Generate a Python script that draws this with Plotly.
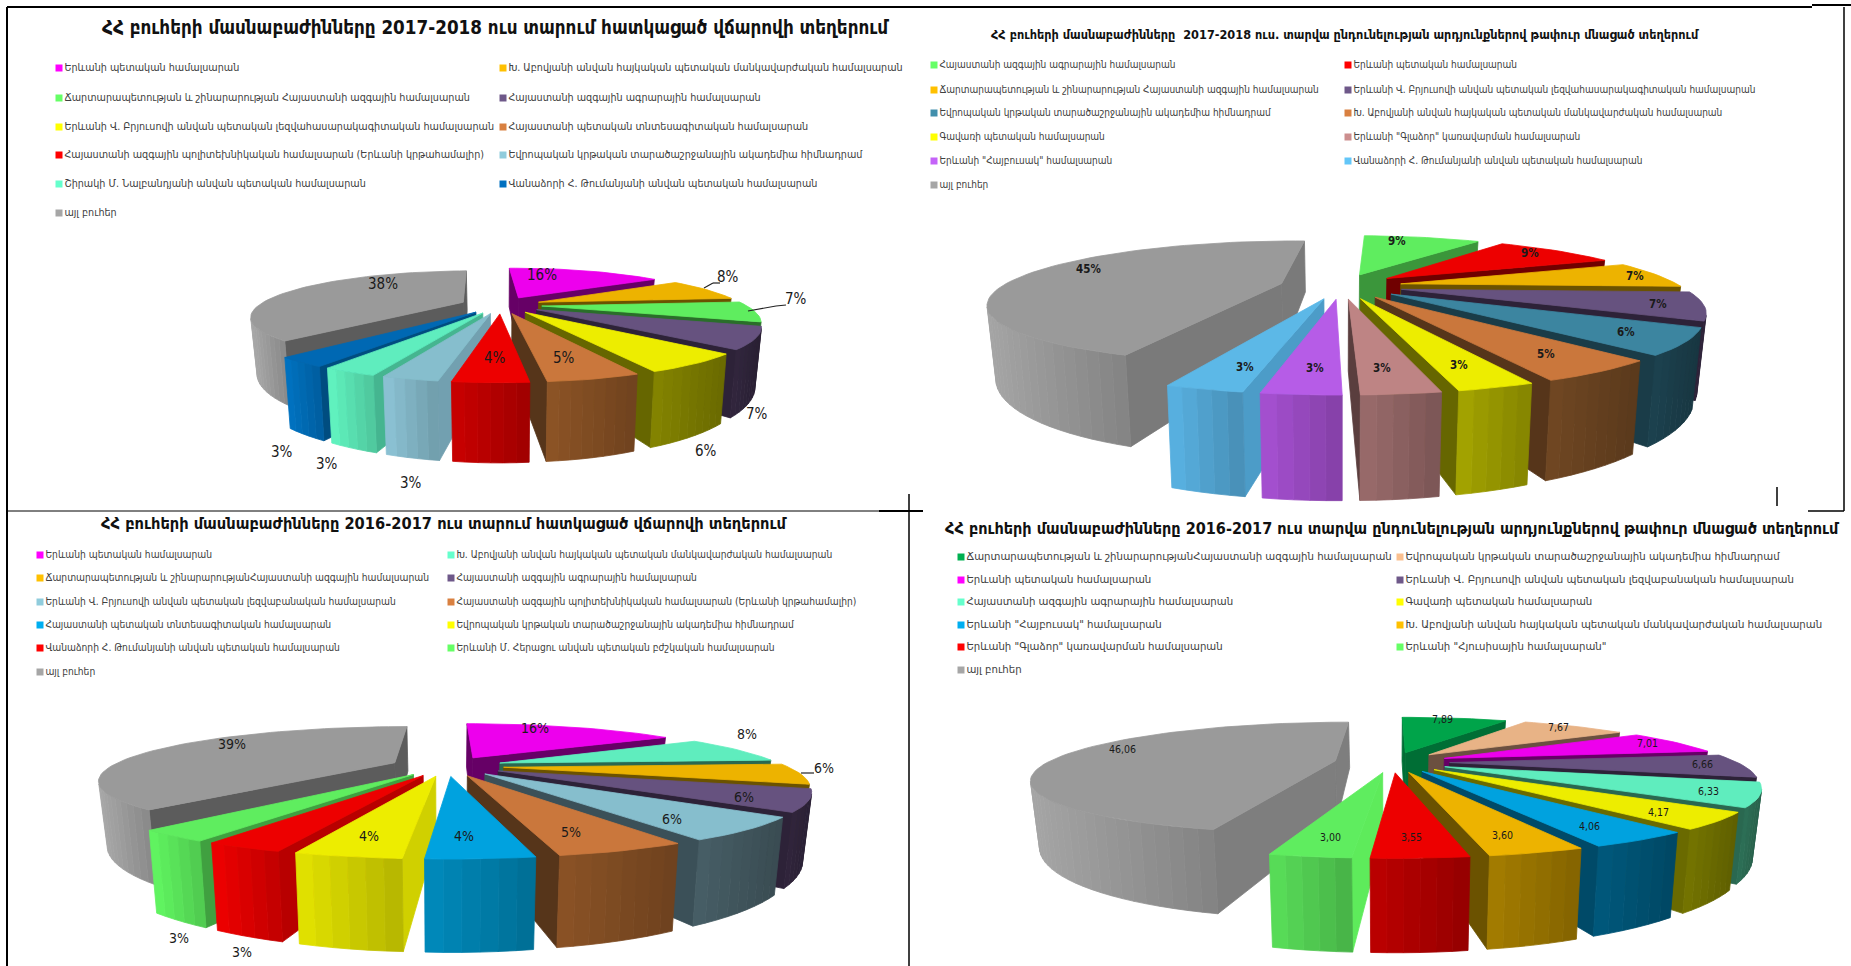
import math
import plotly.graph_objects as go

W, H = 1851, 966

# ---------- data ----------
TITLE_1 = "ՀՀ բուհերի մասնաբաժինները 2017-2018 ուս տարում հատկացած վճարովի տեղերում"
TITLE_2 = "ՀՀ բուհերի մասնաբաժինները  2017-2018 ուս. տարվա ընդունելության արդյունքներով թափուր մնացած տեղերում"
TITLE_3 = "ՀՀ բուհերի մասնաբաժինները 2016-2017 ուս տարում հատկացած վճարովի տեղերում"
TITLE_4 = "ՀՀ բուհերի մասնաբաժինները 2016-2017 ուս տարվա ընդունելության արդյունքներով թափուր մնացած տեղերում"

YSU = "Երևանի պետական համալսարան"
ASPU = "Խ. Աբովյանի անվան հայկական պետական մանկավարժական համալսարան"
NUACA = "Ճարտարապետության և շինարարության Հայաստանի ազգային համալսարան"
NUACA2 = "Ճարտարապետության և շինարարությանՀայաստանի ազգային համալսարան"
ANAU = "Հայաստանի ազգային ագրարային համալսարան"
BRUS1 = "Երևանի Վ. Բրյուսովի անվան պետական լեզվահասարակագիտական համալսարան"
BRUS2 = "Երևանի Վ. Բրյուսովի անվան պետական լեզվաբանական համալսարան"
ASUE = "Հայաստանի պետական տնտեսագիտական համալսարան"
NPUA = "Հայաստանի ազգային պոլիտեխնիկական համալսարան (Երևանի կրթահամալիր)"
EUF = "Եվրոպական կրթական տարածաշրջանային ակադեմիա հիմնադրամ"
SHIR = "Շիրակի Մ. Նալբանդյանի անվան պետական համալսարան"
VAN = "Վանաձորի Հ. Թումանյանի անվան պետական համալսարան"
GAV = "Գավառի պետական համալսարան"
GLA = "Երևանի \"Գլաձոր\" կառավարման համալսարան"
HAY = "Երևանի \"Հայբուսակ\" համալսարան"
MED = "Երևանի Մ. Հերացու անվան պետական բժշկական համալսարան"
NOR = "Երևանի \"Հյուսիսային համալսարան\""
OTHER = "այլ բուհեր"

NAMES_1 = [YSU, ASPU, NUACA, ANAU, BRUS1, ASUE, NPUA, EUF, SHIR, VAN, OTHER]
VALUES_1 = [16, 8, 7, 7, 6, 5, 4, 3, 3, 3, 38]
NAMES_2 = [ANAU, YSU, NUACA, BRUS1, EUF, ASPU, GAV, GLA, HAY, VAN, OTHER]
VALUES_2 = [9, 9, 7, 7, 6, 5, 3, 3, 3, 3, 45]
NAMES_3 = [YSU, ASPU, NUACA2, ANAU, BRUS2, NPUA, ASUE, EUF, VAN, MED, OTHER]
VALUES_3 = [16, 8, 6, 6, 6, 5, 4, 4, 3, 3, 39]
NAMES_4 = [NUACA2, EUF, YSU, BRUS2, ANAU, GAV, HAY, ASPU, GLA, NOR, OTHER]
VALUES_4 = [7.89, 7.67, 7.01, 6.66, 6.33, 4.17, 4.06, 3.60, 3.55, 3.00, 46.06]
TEXTS_4 = ["7,89", "7,67", "7,01", "6,66", "6,33", "4,17", "4,06", "3,60", "3,55", "3,00", "46,06"]

# ---------- styles ----------
C = dict(mag="#FF00FF", org="#FFC000", grn="#66FF66", pur="#6E5889", yel="#FFFF00", brn="#D98040",
         red="#FF0000", lbl="#90CCDC", mnt="#66FFCC", blu="#0070C0", gry="#A6A6A6", tea="#418FAC",
         ros="#CC8E8E", vio="#C463F8", sky="#63C6F8", cya="#00AEF0", dgr="#00B050", pch="#FAC090")
COLORS_1 = [C[k] for k in "mag org grn pur yel brn red lbl mnt blu gry".split()]
OUTER_1 = ["#660066", "#6B5200", "#2A6E2A", "#2D2238", "#777700", "#7E4B22", "#B40000", "#7EB0C0", "#58DDAE", "#0068B0", "#989898"]
SIDE_1 = ["#660066", "#6B5200", "#2A6E2A", "#2D2238", "#666600", "#56351A", "#B80000", "#72A0B0", "#45B590", "#004D80", "#5C5C5C"]
COLORS_2 = [C[k] for k in "grn red org pur tea brn yel ros vio sky gry".split()]
OUTER_2 = ["#3B963B", "#700000", "#6B5200", "#2D2238", "#1A3C48", "#65401F", "#949400", "#8A6060", "#9548BC", "#50A0CC", "#949494"]
SIDE_2 = ["#3B963B", "#700000", "#6B5200", "#2D2238", "#1A3C48", "#56351A", "#666600", "#5A3E3E", "#9548BC", "#4C9CC8", "#7A7A7A"]
COLORS_3 = [C[k] for k in "mag mnt org pur lbl brn cya yel red grn gry".split()]
OUTER_3 = ["#660066", "#2A6850", "#6B5200", "#2D2238", "#40555C", "#7C4A22", "#007CA8", "#CCCC00", "#D80000", "#58E058", "#989898"]
SIDE_3 = ["#660066", "#2A6850", "#6B5200", "#2D2238", "#3B5058", "#56351A", "#0090C8", "#D0D000", "#B80000", "#40A040", "#5C5C5C"]
COLORS_4 = [C[k] for k in "dgr pch mag pur mnt yel cya org red grn gry".split()]
OUTER_4 = ["#006E35", "#6B5040", "#660066", "#2D2238", "#2A6850", "#6A6A00", "#005070", "#947000", "#A80000", "#50C850", "#949494"]
SIDE_4 = ["#006E35", "#6B5040", "#660066", "#2D2238", "#2A6850", "#6A6A00", "#004A68", "#6B5200", "#A80000", "#5EEB5B", "#7E7E7E"]

FONT = "DejaVu Sans Condensed, DejaVu Sans, sans-serif"

PANELS = [
    dict(names=NAMES_1, values=VALUES_1, texts=[f"{v}%" for v in VALUES_1], colors=COLORS_1, outer=OUTER_1, side=SIDE_1,
         title=TITLE_1, box=(0, 925, 0, 511), title_xy=(495, 27), title_size=18.7, title_bold=True,
         geo=dict(xc=501, yc=305, w=204, a=42, b=0.293, e=0.2, h=52, rot=-2),
         lx=(59, 503), ly=[68, 98, 127, 155, 184, 213], lsize=10.7,
         lab_size=15, lab_bold=False,
         lab_xy=[(542, 275), (728, 277), (796, 299), (757, 414), (706, 451), (564, 358), (495, 358), (411, 483), (327, 464), (282, 452), (383, 284)],
         leaders=[[(704, 288), (713, 283), (720, 283)], [(748, 311), (776, 306), (786, 305)]]),
    dict(names=NAMES_2, values=VALUES_2, texts=[f"{v}%" for v in VALUES_2], colors=COLORS_2, outer=OUTER_2, side=SIDE_2,
         title=TITLE_2, box=(925, 1851, 0, 511), title_xy=(1345, 34), title_size=12.6, title_bold=True,
         geo=dict(xc=1341, yc=286, w=279, a=56.7, b=0.30, e=0.22, h=67, rot=2.5),
         lx=(934, 1348), ly=[65, 90, 113, 137, 161, 185], lsize=10,
         lab_size=11.5, lab_bold=True,
         lab_xy=[(1397, 241), (1530, 253), (1635, 276), (1658, 304), (1626, 332), (1546, 354), (1459, 365), (1382, 368), (1315, 368), (1245, 367), (1088, 269)],
         leaders=[]),
    dict(names=NAMES_3, values=VALUES_3, texts=[f"{v}%" for v in VALUES_3], colors=COLORS_3, outer=OUTER_3, side=SIDE_3,
         title=TITLE_3, box=(0, 925, 511, 966), title_xy=(444, 523), title_size=16.3, title_bold=True,
         geo=dict(xc=447, yc=766, w=283, a=49, b=0.307, e=0.2, h=59, rot=0),
         lx=(40, 451), ly=[555, 578, 602, 625, 648, 672], lsize=10.2,
         lab_size=14, lab_bold=False,
         lab_xy=[(535, 728), (747, 734), (824, 768), (744, 797), (672, 819), (571, 832), (464, 836), (369, 836), (242, 952), (179, 938), (232, 744)],
         leaders=[[(801, 773), (814, 773)]]),
    dict(names=NAMES_4, values=VALUES_4, texts=TEXTS_4, colors=COLORS_4, outer=OUTER_4, side=SIDE_4,
         title=TITLE_4, box=(925, 1851, 511, 966), title_xy=(1392, 528), title_size=16.1, title_bold=True,
         geo=dict(xc=1392, yc=762, w=287, a=51, b=0.304, e=0.2, h=60, rot=0),
         lx=(961, 1400), ly=[557, 580, 602, 625, 647, 670], lsize=11.3,
         lab_size=10.5, lab_bold=False,
         lab_xy=[(1442, 719), (1558, 727), (1647, 743), (1702, 764), (1708, 791), (1658, 812), (1589, 826), (1502, 835), (1411, 837), (1330, 837), (1122, 749)],
         leaders=[]),
]


def shade(hexcol, f):
    r, g, b = [int(hexcol[i:i + 2], 16) for i in (1, 3, 5)]
    return "#%02X%02X%02X" % tuple(max(0, min(255, round(c * f))) for c in (r, g, b))


def projector(g):
    def top(X, Z):
        d = 1 + g["b"] * Z
        return g["xc"] + g["w"] * X / d, g["yc"] - g["a"] * Z / d

    def bot(X, Z):
        d = 1 + g["b"] * Z
        return g["xc"] + 0.975 * g["w"] * X / d, g["yc"] - g["a"] * Z / d + g["h"] / d

    return top, bot


def poly(xa, ya, color, xax, yax, name):
    return go.Scatter(x=xa + xa[:1], y=ya + ya[:1], xaxis=xax, yaxis=yax, mode="lines", fill="toself",
                      fillcolor=color, line=dict(color=color, width=0.8), hoverinfo="skip",
                      showlegend=False, name=name)


def wall(p_a, p_b, top, bot):
    ta, tb, bb, ba = top(*p_a), top(*p_b), bot(*p_b), bot(*p_a)
    pts = [ta, tb, bb, ba]
    area = sum(pts[i][0] * pts[(i + 1) % 4][1] - pts[(i + 1) % 4][0] * pts[i][1] for i in range(4))
    return pts, area < 0


fig = go.Figure()
layout = dict(width=W, height=H, margin=dict(l=0, r=0, t=0, b=0), paper_bgcolor="white", plot_bgcolor="white",
              showlegend=False, autosize=False)
annotations, shapes = [], []

for idx, p in enumerate(PANELS, start=1):
    sfx = "" if idx == 1 else str(idx)
    xax, yax = f"x{sfx}", f"y{sfx}"
    x0, x1, y0, y1 = p["box"]
    layout[f"xaxis{sfx}"] = dict(domain=[x0 / W, x1 / W], range=[x0, x1], visible=False, fixedrange=True, anchor=yax)
    layout[f"yaxis{sfx}"] = dict(domain=[1 - y1 / H, 1 - y0 / H], range=[y1, y0], visible=False, fixedrange=True, anchor=xax)

    g = p["geo"]
    top, bot = projector(g)
    total = sum(p["values"])
    slices, ang = [], float(g["rot"])
    for i, v in enumerate(p["values"]):
        sweep = 360.0 * v / total
        slices.append((i, ang, ang + sweep))
        ang += sweep

    def mid_z(s):
        m = math.radians((s[1] + s[2]) / 2)
        return math.cos(m)

    for i, a0, a1 in sorted(slices, key=mid_z, reverse=True):
        name = p["names"][i]
        m = math.radians((a0 + a1) / 2)
        ox, oz = g["e"] * math.sin(m), g["e"] * math.cos(m)
        n = max(3, int(math.ceil((a1 - a0) / 2.5)))
        rim = [(ox + math.sin(math.radians(a0 + (a1 - a0) * k / n)), oz + math.cos(math.radians(a0 + (a1 - a0) * k / n)))
               for k in range(n + 1)]
        apex = (ox, oz)
        # radial side walls
        for A, B in ((apex, rim[0]), (rim[-1], apex)):
            pts, vis = wall(A, B, top, bot)
            if vis:
                fig.add_trace(poly([q[0] for q in pts], [q[1] for q in pts], p["side"][i], xax, yax, name))
        # outer rim wall, banded for shading
        vis_strips = []
        for k in range(n):
            pts, vis = wall(rim[k], rim[k + 1], top, bot)
            if vis:
                vis_strips.append(pts)
        if vis_strips:
            xs = [q[0] for st in vis_strips for q in st]
            lo, hi = min(xs), max(xs)
            for st in vis_strips:
                c = sum(q[0] for q in st) / 4
                t = (c - lo) / (hi - lo) if hi > lo else 0.5
                fig.add_trace(poly([q[0] for q in st], [q[1] for q in st], shade(p["outer"][i], 1.12 - 0.24 * t), xax, yax, name))
        # top face
        tp = [top(*apex)] + [top(*q) for q in rim]
        fig.add_trace(poly([q[0] for q in tp], [q[1] for q in tp], shade(p["colors"][i], 0.93), xax, yax, name))

    # value labels
    for txt, (lx, ly) in zip(p["texts"], p["lab_xy"]):
        annotations.append(dict(text=f"<b>{txt}</b>" if p["lab_bold"] else txt, x=lx, y=ly, xref=xax, yref=yax, showarrow=False,
                                font=dict(family=FONT, size=p["lab_size"], color="#1A1A1A")))
    for ld in p["leaders"]:
        for (a, b), (c, d) in zip(ld[:-1], ld[1:]):
            shapes.append(dict(type="line", xref=xax, yref=yax, x0=a, y0=b, x1=c, y1=d, line=dict(color="#222222", width=1.2)))

    # title
    ttl = f"<b>{p['title']}</b>" if p["title_bold"] else p["title"]
    annotations.append(dict(text=ttl, x=p["title_xy"][0], y=p["title_xy"][1], xref=xax, yref=yax, showarrow=False,
                            font=dict(family=FONT, size=p["title_size"], color="#111111")))

    # two-column legend, filled row by row
    for i, nm in enumerate(p["names"]):
        fig.add_trace(go.Scatter(x=[p["lx"][i % 2]], y=[p["ly"][i // 2]], xaxis=xax, yaxis=yax, mode="markers+text",
                                 marker=dict(symbol="square", size=7, color=p["colors"][i]), text=[nm],
                                 textposition="middle right", cliponaxis=False, hoverinfo="skip", showlegend=False,
                                 textfont=dict(family=FONT, size=p["lsize"], color="#404040")))


def frame(xa, ya, xb, yb, width):
    shapes.append(dict(type="line", xref="paper", yref="paper", x0=xa / W, x1=xb / W, y0=1 - ya / H, y1=1 - yb / H,
                       line=dict(color="black", width=width)))


frame(7, 7, 1812, 7, 2)
frame(1812, 5, 1851, 5, 2)
frame(7, 7, 7, 966, 2)
frame(7, 511, 879, 511, 1)
frame(879, 511, 923, 511, 2)
frame(909, 494, 909, 966, 1.5)
frame(1844, 7, 1844, 511, 1.5)
frame(1808, 511, 1844, 511, 1.5)
frame(1777, 487, 1777, 506, 1.5)

fig.update_layout(**layout, annotations=annotations, shapes=shapes)
fig.write_html("out.html", config={"displayModeBar": False},
               post_script="document.body.style.margin='0';document.documentElement.style.overflow='hidden';")
